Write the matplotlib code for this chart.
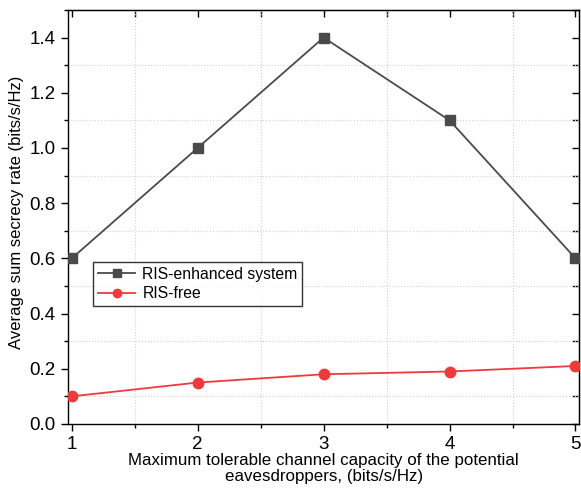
import matplotlib
matplotlib.use("Agg")
import matplotlib.pyplot as plt
from matplotlib.ticker import MultipleLocator

plt.rcParams['font.family'] = ['Liberation Sans', 'DejaVu Sans']

# data
capacity = [1, 2, 3, 4, 5]
ris_enhanced = [0.6, 1.0, 1.4, 1.1, 0.6]
ris_free = [0.1, 0.15, 0.18, 0.19, 0.21]

fig = plt.figure(figsize=(5.81, 4.97), dpi=100)
ax = fig.add_axes([0.117, 0.147, 0.880, 0.833])

ax.plot(capacity, ris_enhanced, color='#4a4a4a', lw=1.3, marker='s', ms=7,
        markerfacecolor='#4a4a4a', markeredgecolor='#4a4a4a',
        label='RIS-enhanced system', zorder=3)
ax.plot(capacity, ris_free, color='#f0393b', lw=1.3, marker='o', ms=7.5,
        markerfacecolor='#f0393b', markeredgecolor='#f0393b',
        label='RIS-free', zorder=3)

ax.set_xlim(0.97, 5.03)
ax.set_ylim(0, 1.5)
ax.xaxis.set_major_locator(MultipleLocator(1))
ax.xaxis.set_minor_locator(MultipleLocator(0.5))
ax.yaxis.set_major_locator(MultipleLocator(0.2))
ax.yaxis.set_minor_locator(MultipleLocator(0.1))
ax.yaxis.set_major_formatter(lambda v, p: f"{v:.1f}")

# dotted grid only on minor ticks
ax.grid(False)
ax.grid(which='minor', color='#d0d0d0', ls=':', lw=0.8)

ax.tick_params(which='both', direction='out', width=1.0, labelsize=13.5,
               top=False, right=False)
ax.tick_params(which='major', length=5, pad=4)
ax.tick_params(which='minor', length=3)
# inward ticks on top and right
top = ax.secondary_xaxis('top')
top.xaxis.set_major_locator(MultipleLocator(0.5))
top.tick_params(direction='in', length=5, width=1.0, labeltop=False)
right = ax.secondary_yaxis('right')
right.yaxis.set_major_locator(MultipleLocator(0.1))
right.tick_params(direction='in', length=5, width=1.0, labelright=False)

for s in ax.spines.values():
    s.set_linewidth(1.0)

ax.set_xlabel('Maximum tolerable channel capacity of the potential\neavesdroppers, (bits/s/Hz)',
              fontsize=12.2, labelpad=0, linespacing=1.08)
ax.set_ylabel('Average sum secrecy rate (bits/s/Hz)', fontsize=12, labelpad=4, y=0.51)

leg = ax.legend(loc='upper left', bbox_to_anchor=(0.049, 0.391), fontsize=11.3,
                frameon=True, fancybox=False, edgecolor='black',
                borderpad=0.3, handlelength=2.4, handletextpad=0.45,
                labelspacing=0.28, borderaxespad=0, markerscale=0.8)
leg.get_frame().set_linewidth(1.0)

fig.savefig('out.png', dpi=100)
